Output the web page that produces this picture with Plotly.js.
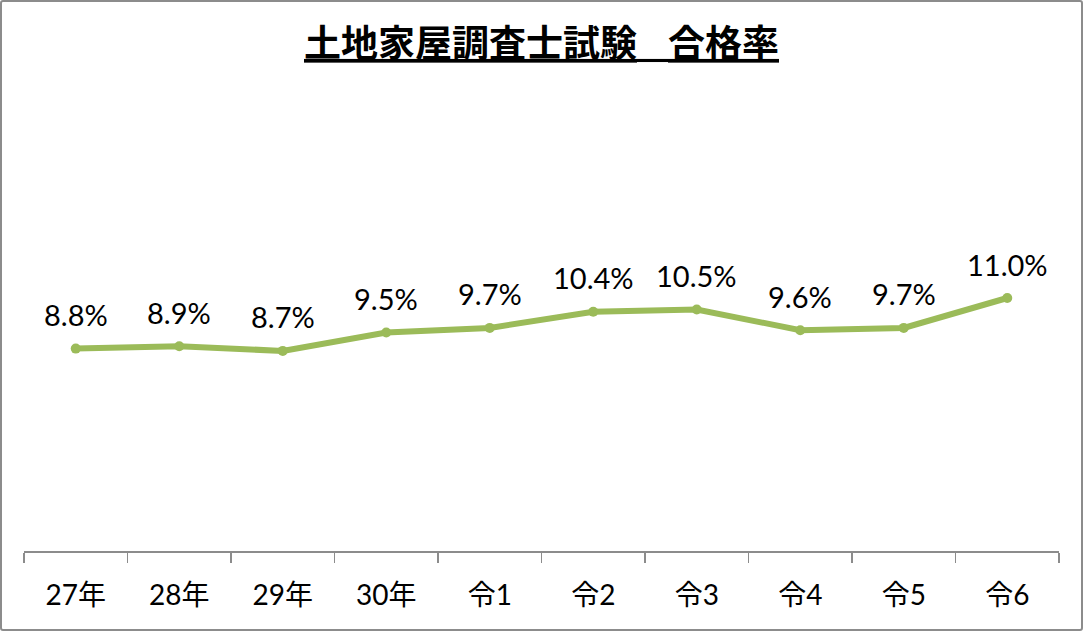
<!DOCTYPE html>
<html>
<head>
<meta charset="utf-8">
<script src="https://cdn.plot.ly/plotly-3.0.1.min.js"></script>
<style>
  html, body { margin:0; padding:0; background:#fff; }
  #wrap { position:relative; width:1083px; height:631px; }
  #chart { width:1083px; height:631px; }
  #frame { position:absolute; left:0; top:0; width:1079px; height:627px; border:2px solid #8c8c8c; border-radius:3px; pointer-events:none; }
</style>
</head>
<body>
<div id="wrap"><div id="chart"></div><div id="frame"></div></div>
<script>
const categories = ["27年", "28年", "29年", "30年", "令1", "令2", "令3", "令4", "令5", "令6"];
const passRates = [8.8, 8.9, 8.7, 9.5, 9.7, 10.4, 10.5, 9.6, 9.7, 11.0];
const titleParts = ["土地家屋調査士試験", "合格率"];

const labelFont = "Lato, 'Noto Sans CJK JP', sans-serif";

const trace = {
  x: categories,
  y: passRates,
  type: "scatter",
  mode: "lines+markers",
  line: { color: "#9BBB59", width: 6 },
  marker: { color: "#9BBB59", size: 10 },
  hoverinfo: "skip"
};

const annotations = categories.map((c, i) => ({
  x: c,
  y: passRates[i],
  xref: "x",
  yref: "y",
  text: passRates[i].toFixed(1) + "%",
  showarrow: false,
  yshift: 34,
  yanchor: "middle",
  font: { family: labelFont, size: 29, color: "#000" }
}));

const layout = {
  width: 1083,
  height: 631,
  paper_bgcolor: "#fff",
  plot_bgcolor: "#fff",
  margin: { l: 24, r: 24, t: 91, b: 80, pad: 0 },
  showlegend: false,
  title: {
    text: "<b>" + titleParts[0] + "<span style=\"font-size:31px\">　</span>" + titleParts[1] + "</b>",
    x: 0.5,
    xanchor: "center",
    xref: "paper",
    y: 1 - 44 / 631,
    yref: "container",
    yanchor: "middle",
    font: { family: "'Noto Sans CJK JP', sans-serif", size: 37, color: "#000", lineposition: "under" }
  },
  xaxis: {
    type: "category",
    range: [-0.5, categories.length - 0.5],
    showgrid: false,
    zeroline: false,
    showline: true,
    linecolor: "#8c8c8c",
    linewidth: 1.5,
    ticks: "outside",
    tickson: "boundaries",
    ticklen: 10,
    tickwidth: 1.5,
    tickcolor: "#8c8c8c",
    ticklabelstandoff: 19,
    tickfont: { family: labelFont, size: 28, color: "#000" },
    fixedrange: true
  },
  yaxis: {
    range: [0, 20],
    visible: false,
    showgrid: false,
    zeroline: false,
    fixedrange: true
  },
  annotations: annotations
};

Plotly.newPlot("chart", [trace], layout, { displayModeBar: false, staticPlot: true });
</script>
</body>
</html>
